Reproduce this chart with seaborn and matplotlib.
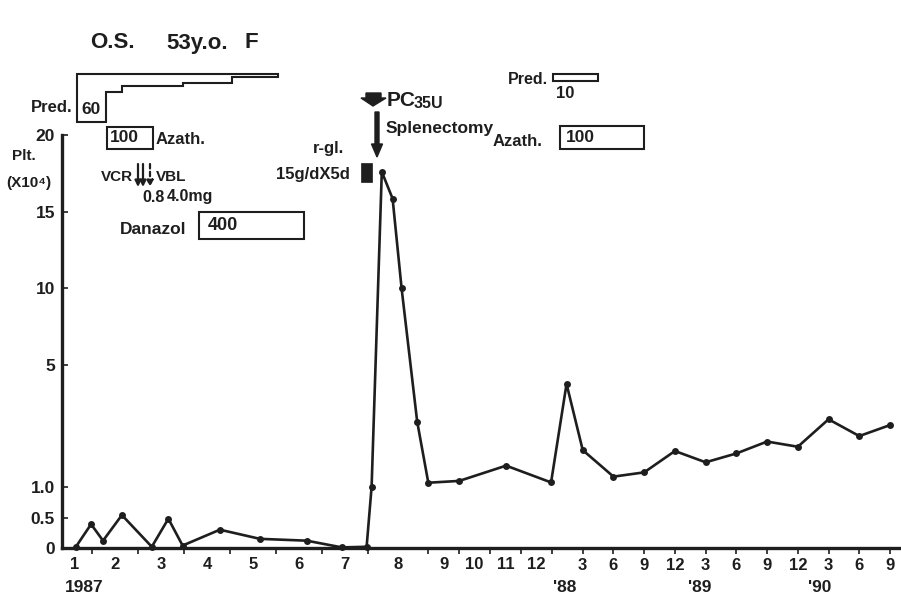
import numpy as np
import pandas as pd
import matplotlib
matplotlib.use('Agg')
import matplotlib.pyplot as plt
import matplotlib.patches as mpatches
import seaborn as sns

######################################
### Data

# time axis in months since 1 Jan 1987
month = [0.65, 0.98, 1.24, 1.65, 2.30, 2.66, 2.97, 3.78, 4.65, 5.67, 6.43, 6.97,
         7.06, 7.23, 7.41, 7.56, 7.82, 8.01, 9.01, 10.52, 11.97, 13.42,
         15, 18, 21, 24, 27, 30, 33, 36, 39, 42, 45]
# platelets (x10^4)
plt_count = [0.02, 0.39, 0.12, 0.54, 0.02, 0.48, 0.04, 0.30, 0.15, 0.12, 0.01, 0.02,
             1.0, 17.6, 15.85, 10.0, 3.14, 1.14, 1.20, 1.70, 1.15, 4.38,
             2.21, 1.34, 1.48, 2.18, 1.81, 2.10, 2.49, 2.32, 3.22, 2.67, 3.03]

y_ticks = [0, 0.5, 1.0, 5, 10, 15, 20]
y_labels = ['0', '0.5', '1.0', '5', '10', '15', '20']

month_ticks = list(range(1, 13)) + list(range(15, 46, 3))
month_tick_labels = [''] * 12 + ['3', '6', '9', '12', '3', '6', '9', '12', '3', '6', '9']
mid_ticks = [0.63] + [m + 0.5 for m in range(1, 12)]
mid_labels = [str(m) for m in range(1, 13)]

years = ['1987', "'88", "'89", "'90"]

# axis breaks (the original axes are drawn piecewise linear)
x_break = [0, 7, 8, 12, 45]
x_pos = [46, 368, 428, 552, 890]
y_break = [0, 1, 5, 20]
y_pos = [0, 61, 183, 413]

#####################################
### Scales

def pw(v, xp, fp):
    v = np.asarray(v, dtype=float)
    out = np.interp(v, xp, fp)
    s0 = (fp[1] - fp[0]) / (xp[1] - xp[0])
    s1 = (fp[-1] - fp[-2]) / (xp[-1] - xp[-2])
    out = np.where(v < xp[0], fp[0] + (v - xp[0]) * s0, out)
    out = np.where(v > xp[-1], fp[-1] + (v - xp[-1]) * s1, out)
    return out

fx = lambda v: pw(v, x_break, x_pos)
fxi = lambda v: pw(v, x_pos, x_break)
fy = lambda v: pw(v, y_break, y_pos)
fyi = lambda v: pw(v, y_pos, y_break)

#####################################
### Plot

sns.set_style('ticks')
plt.rcParams['font.family'] = ['Liberation Sans', 'DejaVu Sans']
ink = '#1e1e1e'

W, H = 901, 596
fig = plt.figure(figsize=(W / 100, H / 100), dpi=100)
ax = fig.add_axes([62 / W, 1 - 548 / H, 838 / W, 413 / H])

df = pd.DataFrame({'month': month, 'plt': plt_count})
sns.lineplot(data=df, x='month', y='plt', marker='o', color=ink, lw=1.9,
             markersize=5, markeredgewidth=0, clip_on=False, ax=ax)

ax.set_xscale('function', functions=(fx, fxi))
ax.set_yscale('function', functions=(fy, fyi))
ax.set_xlim(fxi(62), fxi(900))
ax.set_ylim(0, 20)

ax.set_yticks(y_ticks)
ax.set_yticklabels(y_labels, fontsize=12.5, fontweight='bold', color=ink)
ax.set_xticks(month_ticks)
ax.set_xticklabels(month_tick_labels, fontsize=12, fontweight='bold', color=ink)
ax.set_xticks(mid_ticks, minor=True)
ax.set_xticklabels(mid_labels, minor=True, fontsize=12, fontweight='bold', color=ink)
ax.yaxis.set_minor_locator(matplotlib.ticker.NullLocator())

ax.tick_params(axis='y', direction='in', length=4, width=1.2, pad=5, color=ink)
ax.tick_params(axis='x', which='major', direction='out', length=4, width=1.2, pad=3, color=ink)
ax.tick_params(axis='x', which='minor', length=0, pad=6.2)
ax.set_xlabel('')
ax.set_ylabel('')
sns.despine(ax=ax)
for s in ['left', 'bottom']:
    ax.spines[s].set_linewidth(2.4)
    ax.spines[s].set_color(ink)

#####################################
### Annotations (pixel overlay)

ov = fig.add_axes([0, 0, 1, 1], zorder=5)
ov.set_xlim(0, W)
ov.set_ylim(H, 0)
ov.axis('off')
ov.patch.set_alpha(0)

tkw = dict(color=ink, fontweight='bold', va='center')

ov.text(90, 43, 'O.S.', fontsize=16, **tkw)
ov.text(166, 43, '53y.o.', fontsize=16, **tkw)
ov.text(244, 43, 'F', fontsize=16, **tkw)

for yl, xc in zip(years, [84, 565, 700, 820]):
    ov.text(xc, 588, yl, fontsize=12.5, ha='center', **tkw)

ov.text(24, 156, 'Plt.', fontsize=11, ha='center', **tkw)
ov.text(29, 183, '(X10⁴)', fontsize=11, ha='center', **tkw)

# prednisone taper
pred = [(77, 74), (278, 74), (278, 77), (232, 77), (232, 83), (183, 83), (183, 86),
        (122, 86), (122, 92), (106, 92), (106, 122), (77, 122)]
ov.add_patch(mpatches.Polygon(pred, closed=True, fill=False, ec=ink, lw=1.5))
ov.text(73, 107, 'Pred.', fontsize=12, ha='right', **tkw)
ov.text(81, 109, '60', fontsize=12.5, **tkw)

# azathioprine 1
ov.add_patch(mpatches.Rectangle((107, 127), 46, 22, fill=False, ec=ink, lw=1.5))
ov.text(110, 138, '100', fontsize=12.5, **tkw)
ov.text(156, 139, 'Azath.', fontsize=12, **tkw)

# VCR / VBL
ov.text(133, 177, 'VCR', fontsize=11, ha='right', **tkw)
for xa, ls in [(138, '-'), (143, '-'), (150, (0, (2, 1.5)))]:
    ov.annotate('', xy=(xa, 187), xytext=(xa, 164),
                arrowprops=dict(arrowstyle='-|>', color=ink, lw=1.6, ls=ls,
                                mutation_scale=9, shrinkA=0, shrinkB=0))
ov.text(156, 177, 'VBL', fontsize=11, **tkw)
ov.text(142, 197, '0.8', fontsize=11.5, **tkw)
ov.text(167, 197, '4.0mg', fontsize=11.5, **tkw)

# danazol
ov.text(120, 230, 'Danazol', fontsize=12.5, **tkw)
ov.add_patch(mpatches.Rectangle((199, 212), 105, 27, fill=False, ec=ink, lw=1.5))
ov.text(208, 226, '400', fontsize=13, **tkw)

# gamma globulin
ov.text(313, 148, 'r-gl.', fontsize=12, **tkw)
ov.text(276, 174, '15g/dX5d', fontsize=12, **tkw)
ov.add_patch(mpatches.Rectangle((361, 163), 11, 19, fc=ink, ec=ink, lw=0.5))

# platelet concentrate
ov.add_patch(mpatches.Polygon([(366, 93), (381, 93), (381, 98), (386, 98), (373, 106),
                               (361, 98), (366, 98)], closed=True, fc=ink, ec=ink))
ov.text(387, 100, 'PC', fontsize=15, **tkw)
ov.text(414, 103, '35U', fontsize=11.5, **tkw)

# splenectomy
ov.add_patch(mpatches.FancyArrow(377, 112, 0, 45, width=4, head_width=11, head_length=13,
                                 length_includes_head=True, fc=ink, ec=ink))
ov.text(386, 129, 'Splenectomy', fontsize=12.5, **tkw)

# pred 10
ov.text(508, 80, 'Pred.', fontsize=11.5, **tkw)
ov.add_patch(mpatches.Rectangle((553, 74), 45, 7, fill=False, ec=ink, lw=1.5))
ov.text(556, 94, '10', fontsize=12, **tkw)

# azathioprine 2
ov.text(493, 142, 'Azath.', fontsize=12, **tkw)
ov.add_patch(mpatches.Rectangle((560, 126), 84, 23, fill=False, ec=ink, lw=1.5))
ov.text(566, 138, '100', fontsize=12.5, **tkw)

fig.savefig('out.png', dpi=100)
